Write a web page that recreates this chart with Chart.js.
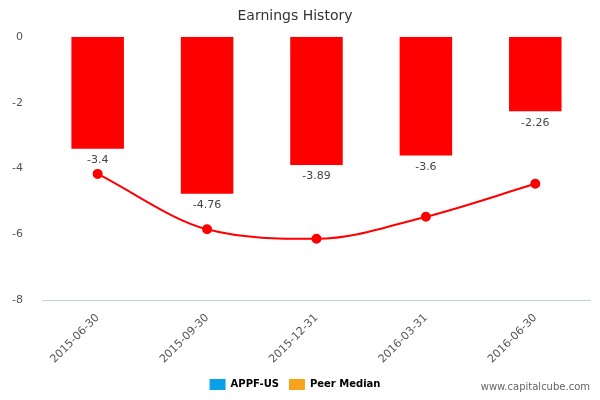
<!DOCTYPE html>
<html>
<head>
<script src="https://cdn.jsdelivr.net/npm/chart.js@4"></script>
<style>
body { margin: 0; background: #fff; }
#wrap { width: 600px; height: 400px; position: relative; }
#mark { position: absolute; right: 10px; bottom: 8px; font: 10px "DejaVu Sans", sans-serif; color: #666; }
</style>
</head>
<body>
<div id="wrap"><canvas id="canvas"></canvas><div id="mark">www.capitalcube.com</div></div>
<script>
var periods = ["2015-06-30", "2015-09-30", "2015-12-31", "2016-03-31", "2016-06-30"];
var earnings = [-3.4, -4.76, -3.89, -3.6, -2.26];
var peerMedian = [-4.16, -5.84, -6.13, -5.46, -4.46];
var yTicks = [0, -2, -4, -6, -8];

var barLabels = {
    id: "barLabels",
    afterDatasetsDraw: function (chart) {
        var ctx = chart.ctx;
        var meta = chart.getDatasetMeta(0);
        ctx.save();
        ctx.font = "11px 'DejaVu Sans', sans-serif";
        ctx.fillStyle = "#444";
        ctx.textAlign = "center";
        ctx.textBaseline = "top";
        meta.data.forEach(function (bar, i) {
            ctx.fillText(String(earnings[i]), bar.x, bar.y + 6);
        });
        ctx.restore();
    }
};

var config = {
    type: "bar",
    data: {
        labels: periods,
        datasets: [
            {
                label: "APPF-US",
                data: earnings,
                backgroundColor: "#ff0000",
                legendColor: "#0aa0e8",
                categoryPercentage: 1,
                barPercentage: 0.48,
                order: 2
            },
            {
                type: "line",
                label: "Peer Median",
                data: peerMedian,
                borderColor: "#ff0000",
                backgroundColor: "#ff0000",
                borderWidth: 2,
                pointRadius: 4,
                cubicInterpolationMode: "monotone",
                fill: false,
                order: 1
            }
        ]
    },
    options: {
        responsive: true,
        maintainAspectRatio: false,
        animation: false,
        layout: { padding: { left: 0, right: 10, top: 0, bottom: 0 } },
        plugins: {
            title: {
                display: true,
                text: "Earnings History",
                color: "#333",
                font: { family: "'DejaVu Sans', sans-serif", size: 14, weight: "normal" },
                padding: { top: 8, bottom: 12 }
            },
            legend: {
                position: "bottom",
                labels: {
                    font: { family: "'DejaVu Sans', sans-serif", size: 10, weight: "bold" },
                    color: "#333",
                    boxWidth: 16,
                    boxHeight: 11,
                    generateLabels: function (chart) {
                        return [
                            { text: "APPF-US", fillStyle: "#0aa0e8", strokeStyle: "#0aa0e8", lineWidth: 0, datasetIndex: 0 },
                            { text: "Peer Median", fillStyle: "#f7a21b", strokeStyle: "#f7a21b", lineWidth: 0, datasetIndex: 1, pointStyle: "circle" }
                        ];
                    }
                }
            },
            tooltip: { enabled: false }
        },
        scales: {
            x: {
                grid: { display: false, drawTicks: true, tickLength: 8, color: "#c0d0e0" },
                border: { color: "#c0d0e0" },
                ticks: {
                    maxRotation: 45,
                    minRotation: 45,
                    color: "#555",
                    font: { family: "'DejaVu Sans', sans-serif", size: 11 }
                }
            },
            y: {
                min: -8,
                max: 0,
                afterBuildTicks: function (axis) {
                    axis.ticks = yTicks.map(function (v) { return { value: v }; });
                },
                grid: { display: false },
                border: { display: false },
                ticks: {
                    color: "#555",
                    padding: 12,
                    font: { family: "'DejaVu Sans', sans-serif", size: 11 }
                }
            }
        }
    },
    plugins: [barLabels]
};

window.onload = function () {
    var ctx = document.getElementById("canvas").getContext("2d");
    window.myChart = new Chart(ctx, config);
};
</script>
</body>
</html>
